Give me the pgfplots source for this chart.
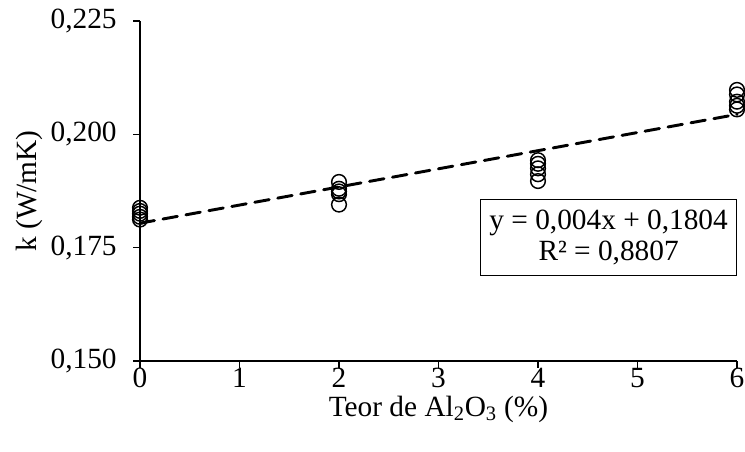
\documentclass[border=0pt]{standalone}
\usepackage{fontspec}
\setmainfont{Liberation Serif}
\usepackage{pgfplots}
\pgfplotsset{compat=1.18}

\begin{document}
\fontsize{22}{23}\selectfont
\begin{tikzpicture}
\begin{axis}[
  scale only axis, width=447.75pt, height=255pt,
  at={(0,0)}, anchor=south west,
  xmin=0, xmax=6, ymin=0.150, ymax=0.225,
  xtick={0,1,2,3,4,5,6},
  ytick={0.150,0.175,0.200,0.225},
  axis lines=left, axis line style={-, line width=1pt, black},
  tick align=outside, major tick length=5pt,
  tick style={line width=1pt, black},
  /pgf/number format/assume math mode=true,
  yticklabel style={xshift=-5pt, /pgf/number format/.cd, fixed, fixed zerofill, precision=3, use comma},
  xticklabel style={yshift=1pt, inner sep=1pt, /pgf/number format/.cd, fixed, precision=0},
  ylabel={k (W/mK)}, xlabel={Teor de Al\textsubscript{2}O\textsubscript{3} (\%)},
  every axis y label/.style={at={(axis description cs:0,0.5)}, xshift=-83pt, rotate=90, anchor=center},
  every axis x label/.style={at={(axis description cs:0.5,0)}, yshift=-36.5pt, anchor=center, inner sep=1pt},
  clip=false,
]
\addplot[only marks, mark=o, mark size=5.5pt, mark options={line width=1.1pt, black}] coordinates {
  (0,0.1812) (0,0.1818) (0,0.1825) (0,0.1831) (0,0.1838)
  (2,0.1845) (2,0.1868) (2,0.1874) (2,0.1880) (2,0.1895)
  (4,0.1897) (4,0.1912) (4,0.1925) (4,0.1935) (4,0.1943)
  (6,0.2055) (6,0.2063) (6,0.2072) (6,0.2088) (6,0.2098)
};
\addplot[black, line width=2.2pt, dash pattern=on 11pt off 6.5pt, line cap=round] coordinates {(0,0.1804) (6,0.2044)};
\node[draw, line width=1pt, fill=white, align=center, minimum width=192pt, minimum height=57pt, inner sep=2pt]
  at (axis cs:4.71,0.1773) {y = 0,004x + 0,1804\\R² = 0,8807};
\end{axis}
\pgfresetboundingbox
\path (-105pt,-67.5pt) rectangle (453.75pt,270.75pt);
\end{tikzpicture}
\end{document}
